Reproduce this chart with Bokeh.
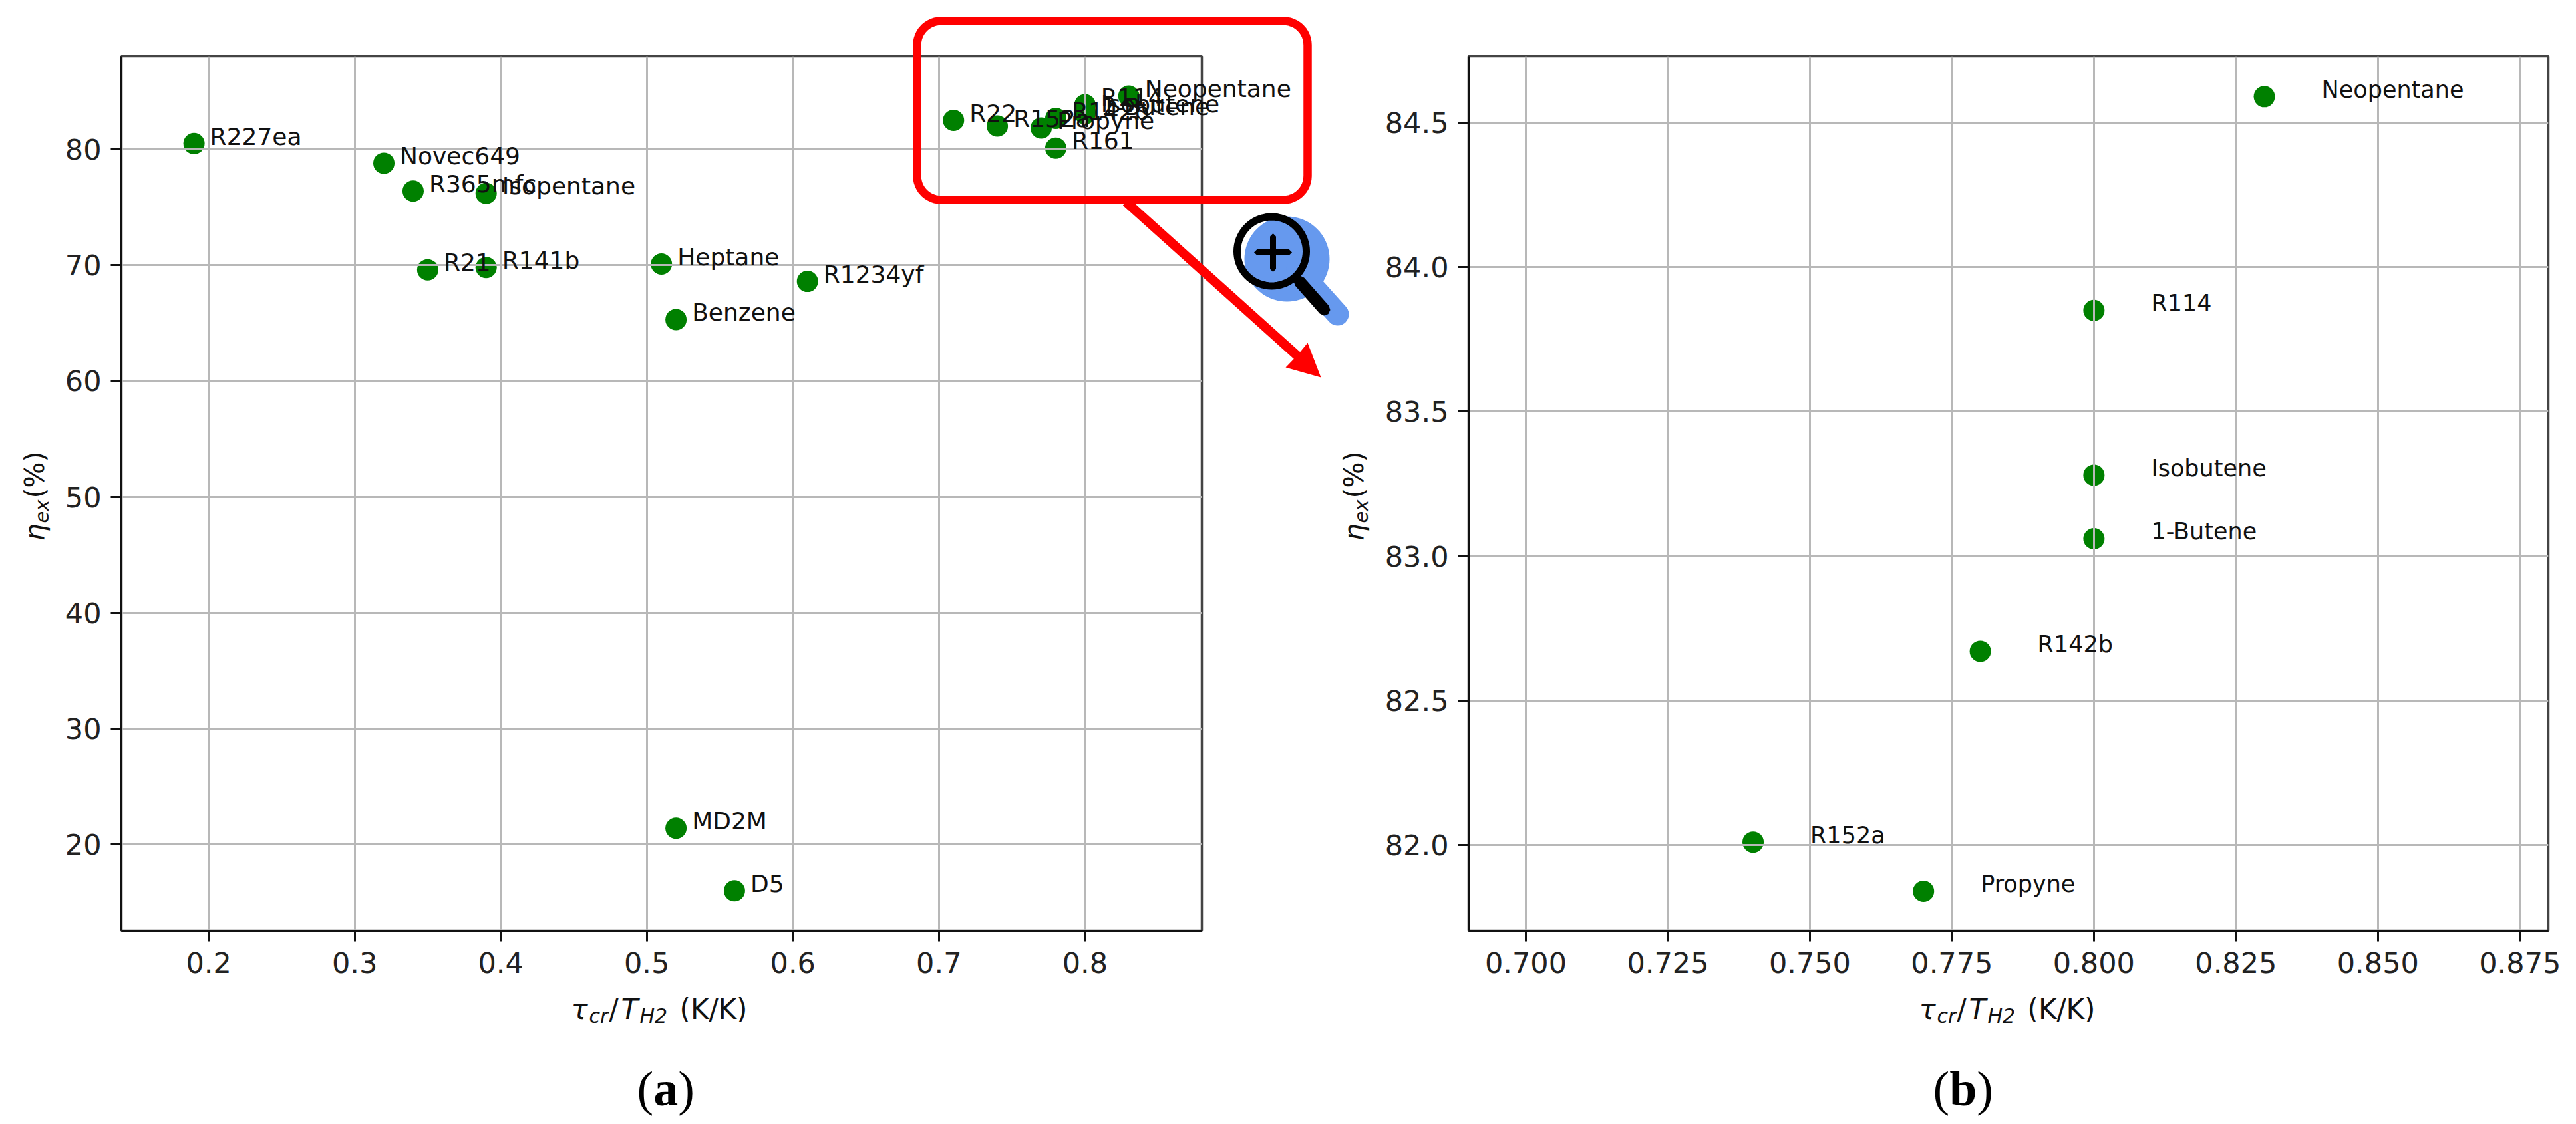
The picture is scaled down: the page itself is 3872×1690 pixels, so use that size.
import math
from bokeh.core.properties import value
from bokeh.embed import file_html
from bokeh.resources import INLINE
from bokeh.plotting import figure
from bokeh.models import (FixedTicker, GridBox, PrintfTickFormatter, Range1d)

# ---- data -------------------------------------------------------------
names_a = ["R227ea", "Novec649", "R365mfc", "Isopentane", "R21", "R141b", "Heptane",
           "R1234yf", "Benzene", "MD2M", "D5", "R22", "R152a", "Propyne", "R142b",
           "R161", "R114", "Isobutene", "1-Butene", "Neopentane"]
x_a = [0.19, 0.32, 0.34, 0.39, 0.35, 0.39, 0.51, 0.61, 0.52, 0.52, 0.56, 0.71, 0.74,
       0.77, 0.78, 0.78, 0.80, 0.80, 0.80, 0.83]
y_a = [80.5, 78.8, 76.4, 76.2, 69.6, 69.8, 70.1, 68.6, 65.3, 21.4, 16.0, 82.5, 82.01,
       81.84, 82.67, 80.1, 83.85, 83.28, 83.06, 84.59]

names_b = ["R152a", "Propyne", "R142b", "R114", "Isobutene", "1-Butene", "Neopentane"]
x_b = [0.74, 0.77, 0.78, 0.80, 0.80, 0.80, 0.83]
y_b = [82.01, 81.84, 82.67, 83.85, 83.28, 83.06, 84.59]

xticks_a = [0.2, 0.3, 0.4, 0.5, 0.6, 0.7, 0.8]
yticks_a = [20, 30, 40, 50, 60, 70, 80]
xticks_b = [0.700, 0.725, 0.750, 0.775, 0.800, 0.825, 0.850, 0.875]
yticks_b = [82.0, 82.5, 83.0, 83.5, 84.0, 84.5]

FONT = "DejaVu Sans"
GREEN = "#008000"
RED = "#ff0000"
BLUE = "#6699ee"
INK = "#111111"
H = 1680
FT, FB = 84, 1399          # frame top / bottom on the page
PAGE_L, PAGE_R, PAGE_T, PAGE_B = 0, 3864, 0, H
LIFT = 0.3                 # em: raises the drawn baseline onto the requested one


def make(x0, fig_right, fl, fr, xr, yr, xt, yt, xfmt, yfmt):
    p = figure(width=fig_right - x0, height=H, x_range=Range1d(*xr), y_range=Range1d(*yr),
               tools="", toolbar_location=None, output_backend="svg", frame_align=False,
               min_border_left=fl - x0, min_border_right=fig_right - fr,
               min_border_top=FT - PAGE_T, min_border_bottom=PAGE_B - FB,
               outline_line_color="#444444", outline_line_width=3.5)
    p.xaxis.ticker = FixedTicker(ticks=xt)
    p.yaxis.ticker = FixedTicker(ticks=yt)
    p.xaxis.formatter = PrintfTickFormatter(format=xfmt)
    p.yaxis.formatter = PrintfTickFormatter(format=yfmt)
    for ax in (p.xaxis[0], p.yaxis[0]):
        ax.major_tick_out = 16
        ax.major_tick_in = 0
        ax.minor_tick_out = 0
        ax.minor_tick_in = 0
        ax.major_tick_line_width = 3
        ax.major_tick_line_color = INK
        ax.axis_line_width = 3
        ax.axis_line_color = INK
        ax.major_label_text_font = FONT
        ax.major_label_text_font_size = "43px"
        ax.major_label_text_color = "#222222"
    p.xaxis.major_label_standoff = 16
    p.yaxis.major_label_standoff = 14
    p.grid.grid_line_color = "#b8b8b8"
    p.grid.grid_line_width = 3
    return p


XR_A, YR_A = (0.1403, 0.880), (12.54, 88.04)
XR_B, YR_B = (0.68993, 0.880), (81.703, 84.730)
FRAME_A = (182, 1806)
FRAME_B = (2207, 3830)

p1 = make(PAGE_L, 2060, *FRAME_A, XR_A, YR_A, xticks_a, yticks_a, "%.1f", "%d")
p2 = make(2060, PAGE_R, *FRAME_B, XR_B, YR_B, xticks_b, yticks_b, "%.3f", "%.1f")

for p, xs, ys in ((p1, x_a, y_a), (p2, x_b, y_b)):
    r = p.scatter(xs, ys, size=32, color=GREEN, line_color=None)
    r.level = "image"          # the grid runs over the markers
    p.grid.level = "underlay"

# ---- transparent sheet over the whole page, in page pixels ---------------
ov = figure(width=PAGE_R - PAGE_L, height=H, x_range=Range1d(PAGE_L, PAGE_R), y_range=Range1d(PAGE_B, PAGE_T),
            tools="", toolbar_location=None, output_backend="svg", frame_align=False,
            min_border=0, min_border_left=0, min_border_right=0, min_border_top=0, min_border_bottom=0,
            x_axis_location=None, y_axis_location=None,
            outline_line_color=None, background_fill_alpha=0, border_fill_alpha=0)
ov.grid.visible = False


def extend(r, frame, lo, hi):
    k = (r[1] - r[0]) / (frame[1] - frame[0])
    return Range1d(r[0] + (lo - frame[0]) * k, r[1] + (hi - frame[1]) * k)


ov.extra_x_ranges = {"ax": extend(XR_A, FRAME_A, PAGE_L, PAGE_R), "bx": extend(XR_B, FRAME_B, PAGE_L, PAGE_R)}
# screen y runs downward: the value range is evaluated from the page bottom to the page top
ov.extra_y_ranges = {"ay": extend(YR_A, (FB, FT), PAGE_B, PAGE_T), "by": extend(YR_B, (FB, FT), PAGE_B, PAGE_T)}

for xs, ys, nm, off, fs, xn, yn in ((x_a, y_a, names_a, 24, 36, "ax", "ay"),
                                    (x_b, y_b, names_b, 86, 35, "bx", "by")):
    ov.text(xs, ys, text=nm, x_offset=off, y_offset=-LIFT * fs, x_range_name=xn, y_range_name=yn,
            text_font=value(FONT), text_font_size=f"{fs}px", text_color=INK,
            text_align="left", text_baseline="alphabetic")


def put(x, y, txt, size, style="normal", font=FONT, angle=0.0, color=INK):
    dx, dy = (-LIFT * size, 0) if angle else (0, -LIFT * size)
    ov.text([x], [y], text=[txt], x_offset=dx, y_offset=dy, text_font=value(font), text_font_size=f"{size}px",
            text_font_style=style, text_color=color, text_align="left",
            text_baseline="alphabetic", angle=angle)


def frag(left, base, pieces, vertical=False):
    pos = 0
    for txt, size, style, adv, drop in pieces:
        if vertical:
            put(left + drop, base - pos, txt, size, style, angle=math.pi / 2)
        else:
            put(left + pos, base + drop, txt, size, style)
        pos += adv


XL = [("τ", 42, "italic", 27, 0), ("cr", 30, "italic", 30, 6), ("/", 42, "normal", 18, 0),
      ("T", 42, "italic", 28, 0), ("H2", 30, "italic", 60, 6), ("(K/K)", 42, "normal", 0, 0)]
YL = [("η", 41, "italic", 27, 0), ("ex", 29, "italic", 37, 7), ("(%)", 41, "normal", 0, 0)]
frag(858, 1530, XL)
frag(2884, 1530, XL)
frag(64, 813, YL, vertical=True)
frag(2047, 813, YL, vertical=True)


def letter(left, ch):
    base, size = 1659, 74
    w = 0.5 if ch == "a" else 0.556
    put(left, base, "(", size, font="Liberation Serif", color="black")
    put(left + 0.333 * size, base, ch, size, style="bold", font="Liberation Serif", color="black")
    put(left + (0.333 + w) * size, base, ")", size, font="Liberation Serif", color="black")


letter(957, "a")
letter(2905, "b")


def poly(pts, fill):
    ov.patch([a for a, _ in pts], [b for _, b in pts], fill_color=fill, line_color=None)


def outline(pts, color, lw):
    pts = list(pts) + pts[:2]
    ov.line([a for a, _ in pts], [b for _, b in pts], line_color=color, line_width=lw, line_join="round")


def circle(cx, cy, r, n=72):
    return [(cx + r * math.cos(2 * math.pi * i / n), cy + r * math.sin(2 * math.pi * i / n)) for i in range(n)]


def rounded(l, t, r, b, rad, n=12):
    pts = []
    for cx, cy, a0 in ((r - rad, t + rad, -90), (r - rad, b - rad, 0), (l + rad, b - rad, 90), (l + rad, t + rad, 180)):
        for i in range(n + 1):
            a = math.radians(a0 + 90 * i / n)
            pts.append((cx + rad * math.cos(a), cy + rad * math.sin(a)))
    return pts


def stadium(x0, y0, x1, y1, hw, n=12):
    base = math.atan2(y1 - y0, x1 - x0)
    pts = []
    for cx, cy, a0 in ((x1, y1, base - math.pi / 2), (x0, y0, base + math.pi / 2)):
        for i in range(n + 1):
            a = a0 + math.pi * i / n
            pts.append((cx + hw * math.cos(a), cy + hw * math.sin(a)))
    return pts


# arrow
tip = (1985, 567)
start = (1692, 303)
ang = math.atan2(tip[1] - start[1], tip[0] - start[0])
nx, ny = -math.sin(ang), math.cos(ang)
neck = (1949, 534)
hw = 7
poly([(start[0] + nx * hw, start[1] + ny * hw), (neck[0] + nx * hw, neck[1] + ny * hw), (1932, 552), tip, (1965, 515),
      (neck[0] - nx * hw, neck[1] - ny * hw), (start[0] - nx * hw, start[1] - ny * hw)], RED)
# rounded frame
outline(rounded(1378, 31, 1965, 300, 36), RED, 12.5)
# magnifier
poly(circle(1934, 389, 64), BLUE)
poly(stadium(1950, 405, 2010, 472, 17), BLUE)
outline(circle(1911, 377.5, 52), "black", 11)
poly(stadium(1953, 423, 1990, 465, 9, n=4), "black")
poly(stadium(1889, 379, 1937, 379, 4.5, n=2), "black")
poly(stadium(1913, 355, 1913, 404, 4.5, n=2), "black")

layout = GridBox(children=[(p1, 0, 0), (p2, 0, 1), (ov, 0, 0, 1, 2)], spacing=0)
open("out.html", "w").write(file_html(layout, INLINE))
